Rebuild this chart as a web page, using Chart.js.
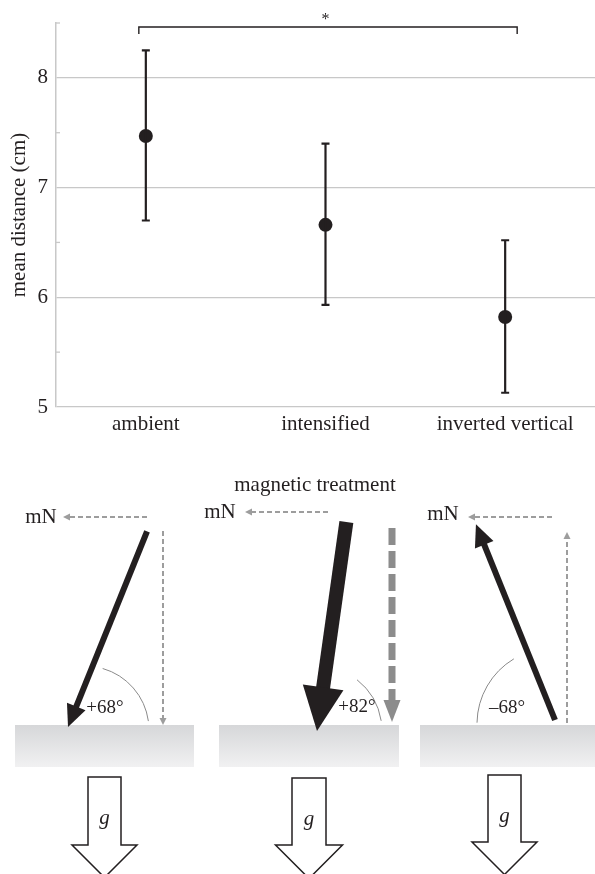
<!DOCTYPE html>
<html>
<head>
<meta charset="utf-8">
<script src="https://cdn.jsdelivr.net/npm/chart.js@4/dist/chart.umd.min.js"></script>
<style>
  html, body { margin: 0; padding: 0; background: #fff; }
  #wrap { width: 595px; height: 874px; position: relative; }
</style>
</head>
<body>
<div id="wrap"><canvas id="c"></canvas></div>
<script>
// values
const categories = ['ambient', 'intensified', 'inverted vertical']
const meanDistance = [7.47, 6.66, 5.82]
const errLow = [6.70, 5.93, 5.13]
const errHigh = [8.25, 7.40, 6.52]
const yTicks = [5, 6, 7, 8]
const minorTicks = [5.5, 6.5, 7.5, 8.5]
const fieldAngles = [68, 82, -68]
const angleLabels = ['+68°', '+82°', '–68°']

const ink = '#231f20'
const grid = '#c8c8c8'
const dashGrey = '#9d9d9d'
const serif = '"Liberation Serif", "DejaVu Serif", serif'

const errorBars = {
    id: 'errorBars',
    afterDatasetsDraw(chart) {
        const { ctx, scales: { x, y } } = chart
        ctx.save()
        ctx.strokeStyle = ink
        ctx.lineWidth = 2.2
        categories.forEach((c, i) => {
            const px = x.getPixelForValue(i)
            const top = y.getPixelForValue(errHigh[i])
            const bot = y.getPixelForValue(errLow[i])
            ctx.beginPath()
            ctx.moveTo(px, top); ctx.lineTo(px, bot)
            ctx.moveTo(px - 4, top); ctx.lineTo(px + 4, top)
            ctx.moveTo(px - 4, bot); ctx.lineTo(px + 4, bot)
            ctx.stroke()
        })
        // minor ticks inside the axis
        ctx.strokeStyle = grid
        ctx.lineWidth = 1.3
        minorTicks.forEach(v => {
            const py = y.getPixelForValue(v)
            ctx.beginPath()
            ctx.moveTo(x.left, py); ctx.lineTo(x.left + 4, py)
            ctx.stroke()
        })
        // significance bracket ambient vs inverted vertical
        const x0 = x.getPixelForValue(0) - 7
        const x1 = x.getPixelForValue(2) + 12
        ctx.strokeStyle = ink
        ctx.lineWidth = 1.4
        ctx.beginPath()
        ctx.moveTo(x0, 34); ctx.lineTo(x0, 27); ctx.lineTo(x1, 27); ctx.lineTo(x1, 34)
        ctx.stroke()
        ctx.fillStyle = ink
        ctx.font = '16px ' + serif
        ctx.textAlign = 'center'
        ctx.textBaseline = 'middle'
        ctx.fillText('*', (x.getPixelForValue(1)), 20)
        ctx.restore()
    }
}

function arrowHead(ctx, tx, ty, ang, len, half) {
    // ang: direction of travel in radians
    const bx = tx - Math.cos(ang) * len, by = ty - Math.sin(ang) * len
    const nx = -Math.sin(ang) * half, ny = Math.cos(ang) * half
    ctx.beginPath()
    ctx.moveTo(tx, ty)
    ctx.lineTo(bx + nx, by + ny)
    ctx.lineTo(bx - nx, by - ny)
    ctx.closePath()
    ctx.fill()
}

function dashedArrow(ctx, x0, y0, x1, y1, w, dash, head, half, color) {
    const ang = Math.atan2(y1 - y0, x1 - x0)
    ctx.save()
    ctx.strokeStyle = color
    ctx.fillStyle = color
    ctx.lineWidth = w
    ctx.setLineDash(dash)
    ctx.beginPath()
    ctx.moveTo(x0, y0)
    ctx.lineTo(x1 - Math.cos(ang) * head * 0.8, y1 - Math.sin(ang) * head * 0.8)
    ctx.stroke()
    ctx.setLineDash([])
    arrowHead(ctx, x1, y1, ang, head, half)
    ctx.restore()
}

function solidArrow(ctx, x0, y0, x1, y1, w, head, half) {
    const ang = Math.atan2(y1 - y0, x1 - x0)
    ctx.save()
    ctx.strokeStyle = ink
    ctx.fillStyle = ink
    ctx.lineWidth = w
    ctx.beginPath()
    ctx.moveTo(x0, y0)
    ctx.lineTo(x1 - Math.cos(ang) * head * 0.9, y1 - Math.sin(ang) * head * 0.9)
    ctx.stroke()
    arrowHead(ctx, x1, y1, ang, head, half)
    ctx.restore()
}

function gArrow(ctx, cx, top, shaftHalf, base, headHalf) {
    ctx.save()
    ctx.fillStyle = '#fff'
    ctx.strokeStyle = ink
    ctx.lineWidth = 1.5
    ctx.beginPath()
    ctx.moveTo(cx - shaftHalf, top)
    ctx.lineTo(cx + shaftHalf, top)
    ctx.lineTo(cx + shaftHalf, base)
    ctx.lineTo(cx + headHalf, base)
    ctx.lineTo(cx, base + headHalf)
    ctx.lineTo(cx - headHalf, base)
    ctx.lineTo(cx - shaftHalf, base)
    ctx.closePath()
    ctx.fill(); ctx.stroke()
    ctx.fillStyle = ink
    ctx.font = 'italic 21px ' + serif
    ctx.textAlign = 'center'
    ctx.textBaseline = 'middle'
    ctx.fillText('g', cx, top + 41)
    ctx.restore()
}

const diagram = {
    id: 'diagram',
    afterDraw(chart) {
        const ctx = chart.ctx
        ctx.save()
        // surfaces
        const blocks = [[15, 194], [219, 399], [420, 595]]
        blocks.forEach(([a, b]) => {
            const gr = ctx.createLinearGradient(0, 725, 0, 767)
            gr.addColorStop(0, '#d6d7d9')
            gr.addColorStop(1, '#f1f1f2')
            ctx.fillStyle = gr
            ctx.fillRect(a, 725, b - a, 42)
        })

        ctx.fillStyle = ink
        ctx.font = '21px ' + serif
        ctx.textAlign = 'center'
        ctx.textBaseline = 'middle'
        ctx.fillText('magnetic treatment', 315, 485)
        ctx.fillText('mN', 41, 517)
        ctx.fillText('mN', 220, 512)
        ctx.fillText('mN', 443, 514)

        // horizontal mN dashed arrows
        dashedArrow(ctx, 147, 517, 63, 517, 2, [5, 3], 7, 3.5, dashGrey)
        dashedArrow(ctx, 328, 512, 245, 512, 2, [5, 3], 7, 3.5, dashGrey)
        dashedArrow(ctx, 552, 517, 468, 517, 2, [5, 3], 7, 3.5, dashGrey)
        // vertical components
        dashedArrow(ctx, 163, 531, 163, 725, 2, [5, 3], 7, 3.5, dashGrey)
        dashedArrow(ctx, 567, 723, 567, 532, 2, [5, 3], 7, 3.5, dashGrey)
        dashedArrow(ctx, 392, 528, 392, 722, 7, [17, 6], 22, 8.5, '#8c8c8c')

        // field vectors from inclination angles
        const L = 211
        const r = a => Math.abs(a) * Math.PI / 180
        // ambient: tip on surface, pointing down-left
        let a = r(fieldAngles[0])
        solidArrow(ctx, 68 + L * Math.cos(a), 727 - L * Math.sin(a), 68, 727, 6, 22, 10)
        // intensified: thick
        a = r(fieldAngles[1])
        solidArrow(ctx, 317 + L * Math.cos(a), 731 - L * Math.sin(a), 317, 731, 14, 44, 20.5)
        // inverted: pointing up-left from surface
        a = r(fieldAngles[2])
        solidArrow(ctx, 555, 720, 555 - L * Math.cos(a), 720 - L * Math.sin(a), 6, 22, 10)

        // angle arcs
        ctx.strokeStyle = '#8a8a8a'
        ctx.lineWidth = 1
        ctx.beginPath(); ctx.arc(85, 730, 64, -74 * Math.PI / 180, -8 * Math.PI / 180); ctx.stroke()
        ctx.beginPath(); ctx.arc(317, 731, 65, -52 * Math.PI / 180, -9 * Math.PI / 180); ctx.stroke()
        ctx.beginPath(); ctx.arc(553, 724, 76, Math.PI + 1 * Math.PI / 180, Math.PI + 59 * Math.PI / 180); ctx.stroke()

        ctx.fillStyle = ink
        ctx.font = '19px ' + serif
        ctx.fillText(angleLabels[0], 105, 708)
        ctx.fillText(angleLabels[1], 357, 707)
        ctx.fillText(angleLabels[2], 507, 708)

        // gravity
        gArrow(ctx, 104.5, 777, 16.5, 845, 32.5)
        gArrow(ctx, 309, 778, 17, 845, 33.5)
        gArrow(ctx, 504.5, 775, 16.5, 842, 32.5)
        ctx.restore()
    }
}

new Chart(document.getElementById('c'), {
    type: 'line',
    data: {
        labels: categories,
        datasets: [{
            data: meanDistance,
            showLine: false,
            pointRadius: 7,
            pointHoverRadius: 7,
            pointBackgroundColor: ink,
            pointBorderColor: ink,
            pointBorderWidth: 0
        }]
    },
    plugins: [errorBars, diagram],
    options: {
        responsive: true,
        maintainAspectRatio: false,
        animation: false,
        events: [],
        layout: { autoPadding: false, padding: { top: 23, bottom: 437, left: 0, right: 0 } },
        plugins: { legend: { display: false }, tooltip: { enabled: false } },
        scales: {
            x: {
                offset: true,
                grid: { display: false },
                border: { display: false },
                ticks: { color: ink, font: { family: serif, size: 21 }, padding: -3, maxRotation: 0 },
                afterFit(s) { s.height = 30; s.paddingLeft = 0; s.paddingRight = 0 }
            },
            y: {
                min: 5,
                max: 8.5,
                afterBuildTicks(s) { s.ticks = yTicks.map(v => ({ value: v })) },
                grid: { color: grid, lineWidth: 1.3, drawTicks: false },
                border: { color: grid, width: 1.5 },
                ticks: { color: ink, font: { family: serif, size: 21 }, padding: 8 },
                title: {
                    display: true,
                    text: 'mean distance (cm)',
                    color: ink,
                    font: { family: serif, size: 21 },
                    padding: { top: 7, bottom: 0 }
                },
                afterFit(s) { s.width = 56; s.paddingTop = 0; s.paddingBottom = 0 }
            }
        }
    }
})
</script>
</body>
</html>
